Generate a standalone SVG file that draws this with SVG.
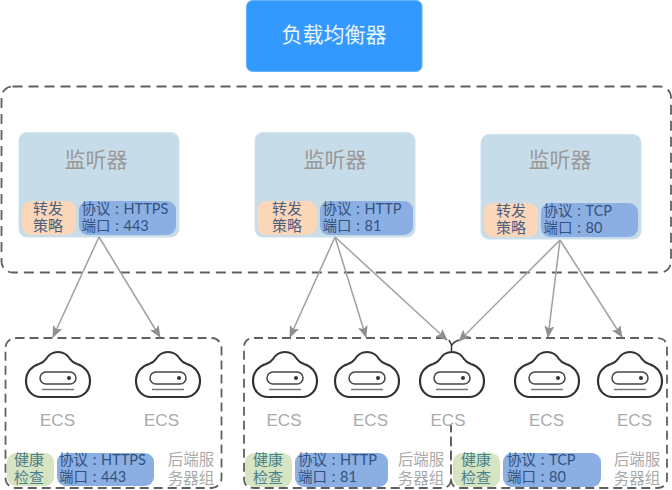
<svg xmlns="http://www.w3.org/2000/svg" width="672" height="490" viewBox="0 0 672 490">
<style>
text{font-family:"Liberation Sans","Noto Sans CJK SC",sans-serif}
.title{font-size:21px;fill:#999;text-anchor:middle}
.tag{font-size:15px;fill:#4a5f80;text-anchor:middle}
.hc{font-size:15px;fill:#4a7f8c;text-anchor:middle}
.port{font-size:14.5px;fill:#34527f;word-spacing:1px;font-family:Lato,"Noto Sans CJK SC",sans-serif}
.ecs{font-size:17px;fill:#aaa;text-anchor:middle}
.grp{font-size:15.5px;fill:#aaa;text-anchor:middle}
.panel{fill:#c6dce8;stroke:#cfe2ee;stroke-width:1}
.orange{fill:#fcd6b8}
.blue{fill:#8bafe3}
.green{fill:#d6e4c2}
.dash{fill:none;stroke:#606060;stroke-width:1.8}
.link{fill:none;stroke:#a0a0a0;stroke-width:1.5;marker-end:url(#head)}
.cloud{fill:#fff;stroke:#333;stroke-width:2.2}
</style>
<defs>
<marker id="head" viewBox="0 0 12 10" refX="11" refY="5" markerWidth="12" markerHeight="10" markerUnits="userSpaceOnUse" orient="auto">
<path d="M0 0L12 5L0 10L2.5 5Z" fill="#8f8f8f"/>
</marker>
<g id="cloud">
<path class="cloud" d="M16 46C7 46 1 39 1 30C1 21 7 15 14 13C17 12 19 11 21 8C24 3 28 1 33 1C38 1 42 3 45 8C47 11 49 12 52 13C59 15 65 21 65 30C65 39 59 46 50 46Z"/>
<rect x="15" y="21" width="36" height="12" rx="6" fill="none" stroke="#444" stroke-width="1.5"/>
<circle cx="44" cy="27" r="2" fill="#333"/>
<path d="M17 38.500H49" stroke="#777" stroke-width="1.500" fill="none"/>
</g>
</defs>

<g id="load-balancer">
<rect x="246.500" y="0.500" width="175.500" height="71" rx="6" fill="#3399ff" stroke="#66b3ff"/>
<text x="334" y="42" font-size="21" fill="#eaf4ff" text-anchor="middle">负载均衡器</text>
</g>

<g id="listener-area">
<rect class="dash" x="1.500" y="86.500" width="669.500" height="186" rx="11" stroke-dasharray="10 6"/>
</g>

<g id="listener-https">
<rect class="panel" x="19" y="132.500" width="160" height="104.500" rx="8"/>
<text class="title" x="96" y="167">监听器</text>
<rect class="orange" x="22" y="201" width="54" height="34" rx="9"/>
<rect class="blue" x="79" y="201" width="97" height="34" rx="9"/>
<text class="tag"><tspan x="48" y="214">转发</tspan><tspan x="48" y="231">策略</tspan></text>
<text class="port"><tspan x="81.500" y="214">协议 : HTTPS</tspan><tspan x="81.500" y="231">端口 : 443</tspan></text>
</g>

<g id="listener-http">
<rect class="panel" x="255" y="132.500" width="160" height="104.500" rx="8"/>
<text class="title" x="335" y="167">监听器</text>
<rect class="orange" x="257" y="201" width="60" height="34" rx="9"/>
<rect class="blue" x="320" y="201" width="93" height="34" rx="9"/>
<text class="tag"><tspan x="287" y="214">转发</tspan><tspan x="287" y="231">策略</tspan></text>
<text class="port"><tspan x="322.500" y="214">协议 : HTTP</tspan><tspan x="322.500" y="231">端口 : 81</tspan></text>
</g>

<g id="listener-tcp">
<rect class="panel" x="481" y="134.500" width="160" height="104.500" rx="8"/>
<text class="title" x="560" y="167">监听器</text>
<rect class="orange" x="484" y="203" width="54" height="34" rx="9"/>
<rect class="blue" x="541" y="203" width="97" height="34" rx="9"/>
<text class="tag"><tspan x="511" y="216">转发</tspan><tspan x="511" y="233">策略</tspan></text>
<text class="port"><tspan x="543.500" y="216">协议 : TCP</tspan><tspan x="543.500" y="233">端口 : 80</tspan></text>
</g>

<g id="backend-https">
<rect class="dash" x="5.500" y="338" width="216" height="150" rx="10" stroke-dasharray="9 5"/>
<use href="#cloud" x="25" y="351"/>
<use href="#cloud" x="135" y="351"/>
<text class="ecs" x="57.500" y="425.500">ECS</text>
<text class="ecs" x="161.500" y="425.500">ECS</text>
<rect class="green" x="7" y="453" width="47" height="33" rx="9"/>
<rect class="blue" x="57" y="453" width="97" height="33" rx="9"/>
<text class="hc"><tspan x="29" y="465">健康</tspan><tspan x="29" y="483">检查</tspan></text>
<text class="port"><tspan x="59" y="465">协议 : HTTPS</tspan><tspan x="59" y="482">端口 : 443</tspan></text>
<text class="grp"><tspan x="191" y="465">后端服</tspan><tspan x="191" y="484">务器组</tspan></text>
</g>

<g id="backend-http">
<path class="dash" d="M445 338H254Q244 338 244 348V478Q244 488 254 488H442Q451 488 451 478V425" stroke-dasharray="9 5"/>
<use href="#cloud" x="252" y="351"/>
<use href="#cloud" x="334" y="351"/>
<text class="ecs" x="284" y="425.500">ECS</text>
<text class="ecs" x="370.500" y="425.500">ECS</text>
<rect class="green" x="245" y="453" width="47" height="34" rx="9"/>
<rect class="blue" x="295" y="453" width="93" height="34" rx="9"/>
<text class="hc"><tspan x="268" y="465">健康</tspan><tspan x="268" y="483">检查</tspan></text>
<text class="port"><tspan x="298" y="465">协议 : HTTP</tspan><tspan x="298" y="482">端口 : 81</tspan></text>
<text class="grp"><tspan x="421" y="465">后端服</tspan><tspan x="421" y="484">务器组</tspan></text>
</g>

<g id="backend-tcp">
<path class="dash" d="M462 338H657Q667 338 667 348V478Q667 488 657 488H460Q451 488 451 478V425" stroke-dasharray="9 5"/>
<use href="#cloud" x="514" y="351"/>
<use href="#cloud" x="597" y="351"/>
<text class="ecs" x="546.500" y="425.500">ECS</text>
<text class="ecs" x="634.500" y="425.500">ECS</text>
<rect class="green" x="453" y="453" width="47" height="34" rx="9"/>
<rect class="blue" x="503" y="453" width="98" height="34" rx="9"/>
<text class="hc"><tspan x="476" y="465">健康</tspan><tspan x="476" y="483">检查</tspan></text>
<text class="port"><tspan x="507" y="465">协议 : TCP</tspan><tspan x="507" y="482">端口 : 80</tspan></text>
<text class="grp"><tspan x="637" y="465">后端服</tspan><tspan x="637" y="484">务器组</tspan></text>
</g>

<g id="shared-ecs">
<use href="#cloud" x="419" y="351"/>
<text class="ecs" x="448" y="425.500">ECS</text>
<path d="M449 340L451.500 345V351M451.500 351V346Q453 342 459 340" fill="none" stroke="#333" stroke-width="1.500"/>
</g>

<g id="connectors">
<path class="link" d="M99 237L53 337"/>
<path class="link" d="M99 237L160 337"/>
<path class="link" d="M335 237L290 337"/>
<path class="link" d="M335 237L366 337"/>
<path class="link" d="M335 237L447 340"/>
<path class="link" d="M560 240L459 341"/>
<path class="link" d="M560 240L548 337"/>
<path class="link" d="M560 240L622 337"/>
</g>
</svg>
